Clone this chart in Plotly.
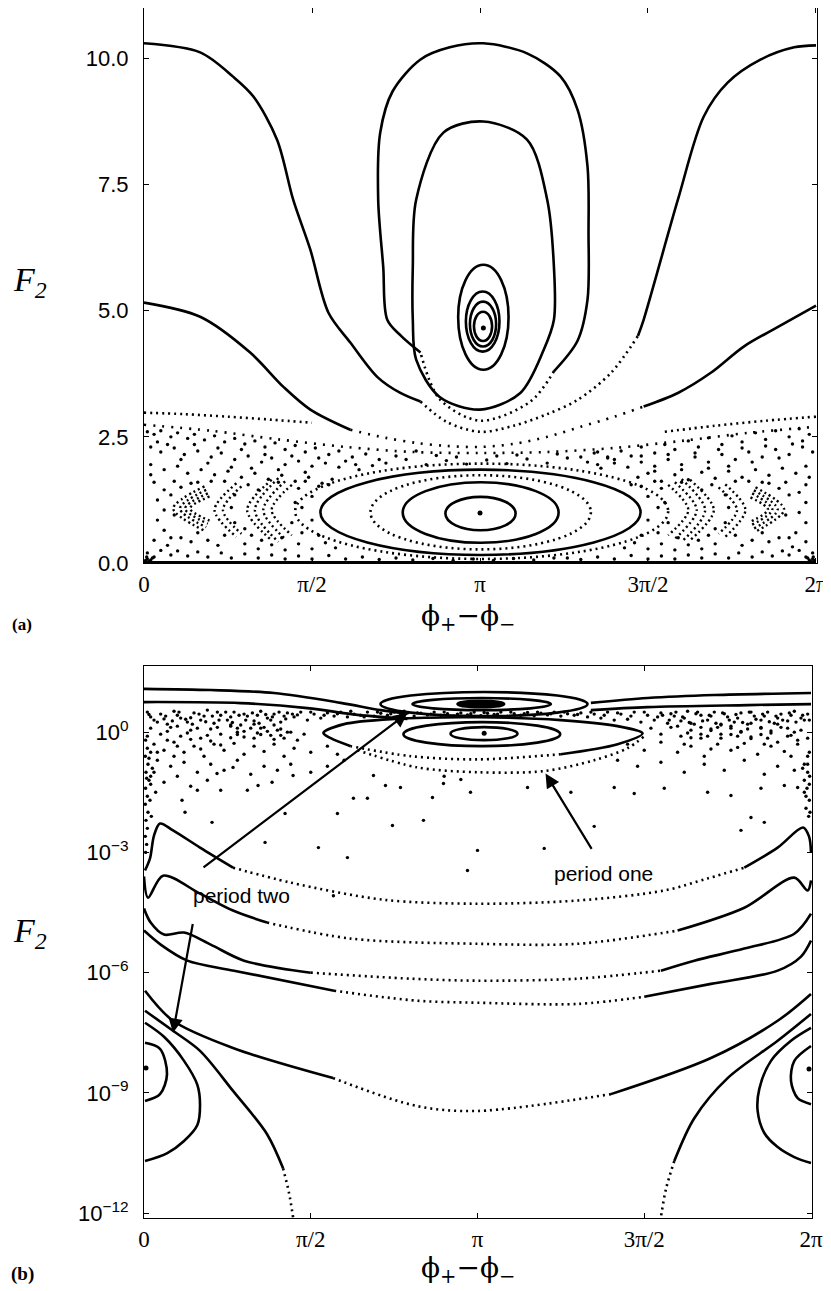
import plotly.graph_objects as go

# ================= shared =================
phase_tickvals = [0, 0.5, 1, 1.5, 2]          # phi+ - phi-, in units of pi
phase_ticktext = ["0", "π/2", "π", "3π/2", "2π"]

# ================= panel (a): linear F2 =================
a_ytickvals = [0, 2.5, 5, 7.5, 10]
a_yticktext = ["0.0", "2.5", "5.0", "7.5", "10.0"]

# outer curve reaching 10.3 at the edges (solid outer parts, dotted bottom)
t1_left_x = [0, 0.167, 0.265, 0.325, 0.396, 0.444, 0.495, 0.549, 0.614, 0.694, 0.763, 0.823]
t1_left_y = [10.3, 10.12, 9.64, 9.25, 8.39, 7.2, 6.21, 4.96, 4.37, 3.69, 3.37, 3.2]
t1_mid_x = [0.823, 0.9, 1.0, 1.1, 1.2, 1.29, 1.39, 1.47]
t1_mid_y = [3.2, 2.8, 2.6, 2.72, 2.95, 3.23, 3.77, 4.5]
t1_right_x = [1.47, 1.487, 1.589, 1.666, 1.737, 1.836, 1.935, 2.0]
t1_right_y = [4.5, 4.82, 7.2, 8.85, 9.52, 9.98, 10.22, 10.26]

# curve reaching 5.1 at the edges
ca_left_x = [0, 0.167, 0.316, 0.415, 0.495, 0.614]
ca_left_y = [5.16, 4.88, 4.17, 3.49, 3.04, 2.64]
ca_mid_x = [0.614, 0.72, 0.81, 0.9, 1.0, 1.1, 1.2, 1.3, 1.4, 1.487]
ca_mid_y = [2.64, 2.48, 2.38, 2.32, 2.3, 2.36, 2.5, 2.7, 2.9, 3.1]
ca_right_x = [1.487, 1.589, 1.687, 1.785, 1.887, 2.0]
ca_right_y = [3.1, 3.37, 3.77, 4.29, 4.68, 5.1]

# large oval around the upper fixed point
o1_solid_x = [0.823, 0.765, 0.724, 0.712, 0.697, 0.703, 0.74, 0.823, 0.91, 1.01, 1.14, 1.24, 1.29, 1.32, 1.323, 1.32, 1.29, 1.22]
o1_solid_y = [4.17, 4.5, 4.82, 5.87, 7.2, 8.53, 9.35, 9.98, 10.22, 10.3, 10.1, 9.64, 8.99, 7.86, 6.55, 5.22, 4.4, 3.8]
o1_dot_x = [1.22, 1.15, 1.0, 0.88, 0.823]
o1_dot_y = [3.8, 3.2, 2.82, 3.25, 4.17]
o2_x = [1.0, 0.88, 0.81, 0.80, 0.80, 0.81, 0.891, 1.01, 1.14, 1.20, 1.22, 1.22, 1.19, 1.12, 1.0]
o2_y = [3.04, 3.29, 4.03, 4.82, 5.87, 7.2, 8.53, 8.75, 8.39, 7.2, 5.87, 4.82, 4.23, 3.37, 3.04]

# small nested ovals (bounding boxes) around the upper fixed point
s_x0 = [0.935, 0.958, 0.97, 0.982]
s_x1 = [1.085, 1.058, 1.048, 1.036]
s_y0 = [3.83, 4.19, 4.29, 4.40]
s_y1 = [5.91, 5.38, 5.18, 4.98]

# ellipses around the lower fixed point
e_x0 = [0.897, 0.77, 0.674, 0.525, 0.45]
e_x1 = [1.106, 1.234, 1.33, 1.478, 1.56]
e_y0 = [0.65, 0.40, 0.27, 0.16, 0.08]
e_y1 = [1.31, 1.60, 1.74, 1.85, 1.97]
e_dotted = [False, False, True, False, True]

a_fixed_x = [1.01, 1.0]
a_fixed_y = [4.66, 0.99]

# dotted invariant curves near the chaotic layer
a2_left_x = [0, 0.12, 0.25, 0.38, 0.5]
a2_left_y = [2.98, 2.95, 2.9, 2.84, 2.78]
a2_right_x = [1.55, 1.7, 1.85, 2.0]
a2_right_y = [2.6, 2.72, 2.82, 2.9]
row_x = [0, 0.2, 0.4, 0.6, 0.8, 1.0, 1.2, 1.4, 1.6, 1.8, 2.0]
row_y = [2.74, 2.62, 2.45, 2.3, 2.2, 2.18, 2.2, 2.28, 2.42, 2.58, 2.7]

# crescent island chains in the chaotic sea
arcs_a = [
    ([0.18, 0.087, 0.18], [1.52, 1.08, 0.64]),
    ([0.185, 0.107, 0.185], [1.45, 1.08, 0.71]),
    ([0.19, 0.122, 0.19], [1.38, 1.08, 0.78]),
    ([0.195, 0.137, 0.195], [1.32, 1.08, 0.84]),
    ([0.275, 0.21, 0.275], [1.58, 1.05, 0.52]),
    ([0.29, 0.235, 0.29], [1.52, 1.05, 0.58]),
    ([0.38, 0.307, 0.38], [1.65, 1.05, 0.45]),
    ([0.40, 0.33, 0.40], [1.68, 1.05, 0.42]),
    ([0.42, 0.355, 0.42], [1.62, 1.05, 0.48]),
    ([0.44, 0.38, 0.44], [1.55, 1.05, 0.55]),
    ([1.82, 1.905, 1.82], [1.5, 1.06, 0.62]),
    ([1.815, 1.886, 1.815], [1.44, 1.06, 0.68]),
    ([1.81, 1.87, 1.81], [1.38, 1.06, 0.76]),
    ([1.805, 1.857, 1.805], [1.3, 1.06, 0.82]),
    ([1.73, 1.79, 1.73], [1.56, 1.05, 0.52]),
    ([1.71, 1.765, 1.71], [1.5, 1.05, 0.58]),
    ([1.625, 1.696, 1.625], [1.65, 1.05, 0.45]),
    ([1.6, 1.67, 1.6], [1.66, 1.05, 0.42]),
    ([1.58, 1.645, 1.58], [1.6, 1.05, 0.48]),
    ([1.56, 1.62, 1.56], [1.55, 1.05, 0.55]),
]

bottom_x = [0, 2]
bottom_y = [0, 0]

chaos_a = [
    (0.01, 2.6), (0.03, 2.55), (0.05, 2.62), (0.08, 2.5), (0.1, 2.58), (0.13, 2.47), (0.15, 2.55), (0.18, 2.44),
    (0.21, 2.52), (0.24, 2.4), (0.27, 2.47), (0.3, 2.36), (0.33, 2.42), (0.36, 2.3), (0.39, 2.38), (0.42, 2.25),
    (0.45, 2.33), (0.48, 2.2), (0.51, 2.28), (0.55, 2.15), (0.58, 2.22), (0.62, 2.1), (0.66, 2.16), (0.7, 2.05),
    (0.02, 2.3), (0.05, 2.2), (0.09, 2.28), (0.12, 2.15), (0.16, 2.22), (0.2, 2.1), (0.23, 2.18), (0.27, 2.05),
    (0.31, 2.12), (0.35, 2.0), (0.38, 2.08), (0.42, 1.95), (0.46, 2.02), (0.5, 1.92), (0.54, 1.98), (0.58, 1.9),
    (0.63, 1.95), (0.68, 1.93), (0.02, 1.95), (0.06, 1.85), (0.1, 1.92), (0.13, 1.78), (0.17, 1.85), (0.21, 1.75),
    (0.25, 1.82), (0.29, 1.7), (0.33, 1.78), (0.37, 1.66), (0.41, 1.74), (0.45, 1.62), (0.49, 1.7), (0.53, 1.58),
    (0.56, 1.66), (0.03, 1.6), (0.06, 1.45), (0.04, 1.25), (0.06, 1.05), (0.04, 0.85), (0.06, 0.65), (0.03, 0.45),
    (0.07, 0.35), (0.02, 1.75), (0.09, 1.62), (0.11, 1.5), (0.14, 1.58), (0.24, 1.62), (0.27, 1.35), (0.26, 1.1),
    (0.27, 0.8), (0.24, 0.55), (0.11, 0.5), (0.14, 0.42), (0.19, 0.45), (0.22, 0.35), (0.3, 0.38), (0.34, 0.28),
    (0.38, 0.36), (0.42, 0.26), (0.46, 0.38), (0.5, 0.28), (0.54, 0.4), (0.57, 0.3), (0.47, 0.6), (0.5, 0.85),
    (0.47, 1.1), (0.5, 1.32), (0.46, 1.48), (0.52, 1.52), (0.44, 0.8), (0.45, 1.2),
    (0.04, 2.4), (0.07, 2.35), (0.11, 2.05), (0.15, 2.35), (0.19, 1.98), (0.22, 2.28), (0.26, 1.9), (0.29, 2.25),
    (0.32, 1.88), (0.36, 2.15), (0.4, 1.85), (0.44, 2.12), (0.48, 1.8), (0.52, 2.08), (0.6, 2.02), (0.64, 1.85),
    (0.08, 1.35), (0.09, 0.95), (0.08, 0.5), (0.16, 0.6), (0.16, 1.6), (0.2, 1.62), (0.31, 1.55), (0.32, 0.55),
    (0.35, 0.45), (0.4, 1.6), (0.41, 0.5), (0.48, 1.62), (0.52, 0.55), (0.55, 1.55), (0.3, 0.68), (0.34, 1.45),
    (0.01, 0.2), (0.03, 0.12), (0.05, 0.25), (0.08, 0.16), (0.1, 0.24), (0.13, 0.14), (0.16, 0.22), (0.19, 0.12),
    (0.23, 0.2), (0.26, 0.1), (0.3, 0.18), (0.34, 0.1), (0.38, 0.16), (0.42, 0.08), (0.46, 0.14), (0.5, 0.08),
    (0.55, 0.15), (0.6, 0.08), (0.65, 0.12), (0.7, 0.07), (0.75, 0.1), (0.8, 0.06), (0.86, 0.09), (0.92, 0.05),
    (0.98, 0.08), (1.04, 0.05), (1.1, 0.09), (1.16, 0.06), (1.22, 0.1),
    (0.005, 0.05), (0.01, 0.08), (0.015, 0.03), (0.02, 0.06), (0.008, 0.12), (0.025, 0.1),
    (0.72, 1.98), (0.78, 2.05), (0.84, 1.95), (0.9, 2.03), (0.96, 1.96), (1.02, 2.04), (1.08, 1.97), (1.14, 2.06),
    (1.2, 1.98), (1.26, 2.08), (1.32, 2.0), (1.38, 2.1), (0.75, 2.12), (0.87, 2.13), (0.93, 2.1), (1.05, 2.12),
    (1.11, 2.14), (1.23, 2.16), (1.35, 2.2), (0.81, 2.22),
    (1.3, 2.1), (1.34, 2.18), (1.38, 2.08), (1.42, 2.22), (1.45, 2.12), (1.48, 2.3), (1.52, 2.18), (1.55, 2.35),
    (1.58, 2.25), (1.62, 2.42), (1.65, 2.3), (1.68, 2.48), (1.72, 2.35), (1.75, 2.52), (1.78, 2.4), (1.82, 2.58),
    (1.85, 2.45), (1.88, 2.62), (1.92, 2.5), (1.95, 2.66), (1.98, 2.55),
    (1.35, 1.95), (1.4, 1.98), (1.44, 1.9), (1.48, 2.0), (1.52, 1.92), (1.56, 2.05), (1.6, 1.95), (1.64, 2.1),
    (1.68, 2.0), (1.72, 2.15), (1.76, 2.05), (1.8, 2.2), (1.84, 2.1), (1.88, 2.25), (1.92, 2.15), (1.96, 2.3),
    (1.99, 2.2), (1.47, 1.7), (1.5, 1.78), (1.54, 1.62), (1.58, 1.75), (1.62, 1.65), (1.66, 1.8), (1.7, 1.68),
    (1.74, 1.82), (1.78, 1.7), (1.82, 1.85), (1.86, 1.74), (1.9, 1.88), (1.94, 1.78), (1.97, 1.92),
    (1.97, 1.55), (1.95, 1.4), (1.97, 1.2), (1.95, 1.0), (1.97, 0.8), (1.94, 0.6), (1.97, 0.42), (1.93, 0.32),
    (1.98, 1.7), (1.91, 1.6), (1.89, 1.48), (1.86, 1.58), (1.76, 1.62), (1.73, 1.35), (1.74, 1.1), (1.73, 0.8),
    (1.76, 0.55), (1.89, 0.5), (1.86, 0.42), (1.81, 0.45), (1.78, 0.35), (1.7, 0.38), (1.66, 0.28), (1.62, 0.36),
    (1.58, 0.26), (1.54, 0.38), (1.5, 0.28), (1.46, 0.4), (1.43, 0.3), (1.53, 0.6), (1.5, 0.85), (1.53, 1.1),
    (1.5, 1.32), (1.54, 1.48), (1.48, 1.52), (1.56, 0.8), (1.55, 1.2),
    (1.96, 2.42), (1.93, 2.36), (1.89, 2.08), (1.85, 2.32), (1.81, 2.0), (1.78, 2.28), (1.74, 1.92), (1.71, 2.25),
    (1.68, 1.88), (1.64, 2.18), (1.6, 1.85), (1.56, 2.15), (1.52, 1.82), (1.48, 2.12), (1.4, 2.05), (1.36, 1.88),
    (1.92, 1.35), (1.91, 0.95), (1.92, 0.5), (1.84, 0.6), (1.84, 1.6), (1.8, 1.62), (1.69, 1.55), (1.68, 0.55),
    (1.65, 0.45), (1.6, 1.6), (1.59, 0.5), (1.52, 1.62), (1.48, 0.55), (1.45, 1.55), (1.7, 0.68), (1.66, 1.45),
    (1.99, 0.2), (1.97, 0.12), (1.95, 0.25), (1.92, 0.16), (1.9, 0.24), (1.87, 0.14), (1.84, 0.22), (1.81, 0.12),
    (1.77, 0.2), (1.74, 0.1), (1.7, 0.18), (1.66, 0.1), (1.62, 0.16), (1.58, 0.08), (1.54, 0.14), (1.5, 0.08),
    (1.45, 0.15), (1.4, 0.08), (1.35, 0.12), (1.3, 0.07), (1.26, 0.1),
    (1.995, 0.05), (1.99, 0.08), (1.985, 0.03), (1.98, 0.06), (1.992, 0.12), (1.975, 0.1),
]

# ================= panel (b): log F2 (values stored as log10 F2) =================
b_ytickvals = [1, 1e-3, 1e-6, 1e-9, 1e-12]
b_yticktext = ["10<sup>0</sup>", "10<sup>−3</sup>", "10<sup>−6</sup>", "10<sup>−9</sup>", "10<sup>−12</sup>"]

b1_left_x = [0.0, 0.2, 0.39, 0.59, 0.71, 0.79]
b1_left_lg = [1.08, 1.05, 0.975, 0.73, 0.55, 0.46]
b2_left_x = [0.0, 0.29, 0.49, 0.64, 0.79]
b2_left_lg = [0.75, 0.725, 0.6, 0.43, 0.33]
b1_right_x = [1.34, 1.51, 1.71, 2.0]
b1_right_lg = [0.73, 0.85, 0.925, 0.975]
b2_right_x = [1.34, 1.51, 1.81, 2.0]
b2_right_lg = [0.55, 0.625, 0.675, 0.7]

# period-two island (upper) bounding boxes
u_x0 = [0.709, 0.805]
u_x1 = [1.33, 1.22]
u_lg0 = [0.4, 0.55]
u_lg1 = [1.0, 0.85]
ucore_x = [0.94, 1.08]
ucore_lg = [0.62, 0.78]

# period-one island (lower)
l_x0 = [0.919, 0.778]
l_x1 = [1.12, 1.248]
l_lg0 = [-0.2, -0.35]
l_lg1 = [0.125, 0.25]
l3_solid_x = [0.62, 0.56, 0.538, 0.6, 0.75, 1.0, 1.25, 1.42, 1.495, 1.42, 1.25]
l3_solid_lg = [-0.35, -0.15, -0.02, 0.2, 0.33, 0.37, 0.3, 0.15, -0.03, -0.3, -0.55]
l3_dot_x = [1.25, 1.0, 0.8, 0.62]
l3_dot_lg = [-0.55, -0.68, -0.6, -0.35]
db_x = [0.64, 0.82, 1.0, 1.2, 1.35, 1.45, 1.5]
db_lg = [-0.45, -0.88, -1.0, -0.97, -0.7, -0.4, -0.1]
b_fixed_x = [1.02]
b_fixed_lg = [-0.03]

# wavy invariant curves (solid left / dotted middle / solid right)
p2a_l_x = [0.003, 0.018, 0.03, 0.048, 0.087, 0.168, 0.267]
p2a_l_lg = [-3.45, -3.15, -2.58, -2.28, -2.45, -2.88, -3.38]
p2a_m_x = [0.267, 0.438, 0.718, 1.0, 1.30, 1.56, 1.69, 1.80]
p2a_m_lg = [-3.38, -3.75, -4.18, -4.28, -4.2, -3.95, -3.65, -3.38]
p2a_r_x = [1.80, 1.90, 1.976, 1.994, 2.0]
p2a_r_lg = [-3.38, -2.88, -2.38, -2.6, -3.0]

p2b_l_x = [0.0, 0.012, 0.057, 0.168, 0.267, 0.369]
p2b_l_lg = [-3.6, -4.13, -3.58, -4.03, -4.45, -4.75]
p2b_m_x = [0.369, 0.62, 1.0, 1.3, 1.6]
p2b_m_lg = [-4.75, -5.15, -5.28, -5.28, -4.95]
p2b_r_x = [1.6, 1.8, 1.95, 1.99, 2.0]
p2b_r_lg = [-4.95, -4.38, -3.63, -3.95, -3.7]

p3_l_x = [0.0, 0.02, 0.06, 0.12, 0.2, 0.3, 0.5]
p3_l_lg = [-4.4, -4.75, -5.05, -5.0, -5.3, -5.7, -6.0]
p3_m_x = [0.5, 0.8, 1.0, 1.3, 1.55]
p3_m_lg = [-6.0, -6.15, -6.2, -6.15, -5.95]
p3_r_x = [1.55, 1.65, 1.8, 1.95, 2.0]
p3_r_lg = [-5.95, -5.7, -5.4, -5.03, -4.53]

p4_l_x = [0.0, 0.05, 0.13, 0.27, 0.57]
p4_l_lg = [-4.95, -5.3, -5.7, -5.95, -6.45]
p4_m_x = [0.57, 0.82, 1.0, 1.3, 1.5]
p4_m_lg = [-6.45, -6.7, -6.75, -6.78, -6.6]
p4_r_x = [1.5, 1.7, 1.9, 1.97, 2.0]
p4_r_lg = [-6.6, -6.28, -5.95, -5.6, -5.2]

p5_l_x = [0.003, 0.087, 0.267, 0.567]
p5_l_lg = [-6.45, -7.2, -7.88, -8.63]
p5_m_x = [0.567, 0.82, 1.0, 1.4]
p5_m_lg = [-8.63, -9.33, -9.45, -9.03]
p5_r_x = [1.4, 1.7, 1.9, 2.0]
p5_r_lg = [-9.03, -8.13, -7.2, -6.53]

p6_l_x = [0.003, 0.087, 0.168, 0.267, 0.369, 0.417]
p6_l_lg = [-6.95, -7.45, -7.95, -8.95, -10.03, -10.88]
p6_ldot_x = [0.417, 0.435, 0.447]
p6_ldot_lg = [-10.88, -11.5, -12.1]
p6_r_x = [2.0, 1.9, 1.75, 1.65, 1.59]
p6_r_lg = [-7.03, -7.7, -8.63, -9.63, -10.7]
p6_rdot_x = [1.59, 1.565, 1.55]
p6_rdot_lg = [-10.7, -11.4, -12.1]

p7_l_x = [0.003, 0.06, 0.12, 0.16, 0.168, 0.16, 0.12, 0.07, 0.003]
p7_l_lg = [-7.25, -7.6, -8.2, -8.8, -9.3, -9.8, -10.2, -10.5, -10.7]
p7_r_x = [2.0, 1.94, 1.88, 1.845, 1.84, 1.86, 1.9, 1.95, 2.0]
p7_r_lg = [-7.38, -7.7, -8.2, -8.9, -9.45, -10.0, -10.35, -10.6, -10.75]
p8_l_x = [0.003, 0.048, 0.069, 0.048, 0.003]
p8_l_lg = [-7.75, -7.9, -8.53, -9.03, -9.2]
p8_r_x = [2.0, 1.95, 1.94, 1.96, 2.0]
p8_r_lg = [-7.83, -8.2, -8.7, -9.13, -9.28]
p_center_x = [0.006, 1.994]
p_center_lg = [-8.38, -8.4]

chaos_b = [
    (0.01, 0.5), (0.03, 0.3), (0.05, 0.45), (0.07, 0.2), (0.09, 0.52), (0.11, 0.35), (0.13, 0.25), (0.15, 0.48),
    (0.17, 0.3), (0.19, 0.55), (0.21, 0.22), (0.23, 0.42), (0.25, 0.3), (0.27, 0.5), (0.29, 0.18), (0.31, 0.4),
    (0.33, 0.28), (0.35, 0.52), (0.37, 0.35), (0.39, 0.45), (0.41, 0.25), (0.43, 0.48), (0.45, 0.38), (0.47, 0.5),
    (0.49, 0.3), (0.51, 0.45), (0.53, 0.35), (0.55, 0.48), (0.57, 0.4), (0.59, 0.5), (0.61, 0.38), (0.63, 0.45),
    (0.65, 0.42), (0.67, 0.5), (0.69, 0.4), (0.71, 0.47), (0.73, 0.42), (0.75, 0.5), (0.77, 0.44), (0.79, 0.48),
    (0.81, 0.4), (0.83, 0.47), (0.85, 0.43), (0.87, 0.5), (0.89, 0.42), (0.91, 0.46), (0.93, 0.4), (0.95, 0.48),
    (0.97, 0.43), (0.99, 0.5), (1.01, 0.41), (1.03, 0.47), (1.05, 0.44), (1.07, 0.5), (1.09, 0.4), (1.11, 0.46),
    (1.13, 0.42), (1.15, 0.49), (1.17, 0.41), (1.19, 0.47), (1.21, 0.43), (1.23, 0.5), (1.25, 0.4), (1.27, 0.46),
    (1.29, 0.42), (1.31, 0.48), (1.33, 0.38), (1.35, 0.45), (1.37, 0.35), (1.39, 0.5), (1.41, 0.3), (1.43, 0.45),
    (1.45, 0.32), (1.47, 0.5), (1.49, 0.25), (1.51, 0.42), (1.53, 0.3), (1.55, 0.48), (1.57, 0.22), (1.59, 0.4),
    (1.61, 0.28), (1.63, 0.52), (1.65, 0.2), (1.67, 0.42), (1.69, 0.3), (1.71, 0.5), (1.73, 0.18), (1.75, 0.38),
    (1.77, 0.25), (1.79, 0.48), (1.81, 0.2), (1.83, 0.4), (1.85, 0.3), (1.87, 0.5), (1.89, 0.22), (1.91, 0.45),
    (1.93, 0.28), (1.95, 0.52), (1.97, 0.35), (1.99, 0.45),
    (0.02, 0.38), (0.06, 0.33), (0.1, 0.42), (0.14, 0.36), (0.18, 0.4), (0.22, 0.5), (0.26, 0.38), (0.3, 0.45),
    (0.34, 0.42), (0.38, 0.3), (0.42, 0.4), (0.46, 0.43), (0.5, 0.5), (0.54, 0.42), (0.58, 0.46), (0.62, 0.52),
    (0.66, 0.38), (0.7, 0.5), (0.74, 0.46), (0.78, 0.52), (0.82, 0.48), (0.86, 0.45), (0.9, 0.5), (0.94, 0.45),
    (0.98, 0.46), (1.02, 0.49), (1.06, 0.45), (1.1, 0.5), (1.14, 0.46), (1.18, 0.5), (1.22, 0.46), (1.26, 0.5),
    (1.3, 0.44), (1.34, 0.5), (1.38, 0.42), (1.42, 0.48), (1.46, 0.4), (1.5, 0.5), (1.54, 0.38), (1.58, 0.46),
    (1.62, 0.35), (1.66, 0.5), (1.7, 0.4), (1.74, 0.46), (1.78, 0.35), (1.82, 0.5), (1.86, 0.4), (1.9, 0.35),
    (1.94, 0.42), (1.98, 0.3),
    (0.015, 0.44), (0.04, 0.25), (0.065, 0.4), (0.085, 0.28), (0.105, 0.5), (0.125, 0.32), (0.145, 0.2),
    (0.165, 0.45), (0.185, 0.26), (0.205, 0.4), (0.225, 0.3), (0.245, 0.5), (0.265, 0.24), (0.285, 0.42),
    (0.305, 0.3), (0.325, 0.48), (0.345, 0.22), (0.365, 0.44), (0.385, 0.38), (0.405, 0.5), (0.425, 0.33),
    (0.445, 0.45), (1.555, 0.42), (1.575, 0.3), (1.595, 0.5), (1.615, 0.38), (1.635, 0.24), (1.655, 0.46),
    (1.675, 0.28), (1.695, 0.42), (1.715, 0.22), (1.735, 0.48), (1.755, 0.3), (1.775, 0.44), (1.795, 0.24),
    (1.815, 0.5), (1.835, 0.32), (1.855, 0.45), (1.875, 0.26), (1.895, 0.4), (1.915, 0.3), (1.935, 0.48),
    (1.955, 0.25), (1.975, 0.42), (1.995, 0.3),
    (0.02, 0.1), (0.05, -0.05), (0.08, 0.12), (0.11, -0.1), (0.14, 0.05), (0.17, -0.15), (0.2, 0.08), (0.23, -0.05),
    (0.26, 0.15), (0.28, 0.0), (0.3, -0.12), (0.32, 0.1), (0.34, -0.02), (0.36, 0.12), (0.38, -0.08), (0.4, 0.05),
    (0.42, -0.15), (0.44, 0.0), (0.46, -0.2), (0.48, -0.05),
    (0.03, -0.3), (0.06, -0.45), (0.09, -0.25), (0.12, -0.5), (0.15, -0.35), (0.18, -0.6), (0.21, -0.3), (0.24, -0.45),
    (0.27, -0.28), (0.3, -0.55), (0.33, -0.35), (0.36, -0.48), (0.39, -0.3), (0.42, -0.6), (0.45, -0.4), (0.5, -0.5),
    (0.55, -0.35), (0.58, -0.55),
    (0.04, -0.7), (0.08, -0.85), (0.12, -0.75), (0.16, -1.0), (0.2, -0.8), (0.24, -0.95), (0.28, -0.7), (0.32, -1.05),
    (0.36, -0.85), (0.4, -0.95), (0.44, -0.8), (0.5, -1.0), (0.55, -0.85), (0.6, -0.7),
    (0.02, -1.1), (0.06, -1.25), (0.1, -1.1), (0.14, -1.35), (0.19, -1.2), (0.23, -1.45),
    (0.26, 0.18), (0.28, 0.1), (0.3, 0.02), (0.28, -0.06), (0.26, -0.14), (0.33, 0.2), (0.35, 0.1), (0.37, 0.02),
    (0.35, -0.06), (0.33, -0.15), (0.39, 0.18), (0.41, 0.08), (0.43, 0.0), (0.41, -0.08), (0.39, -0.18),
    (0.07, 0.02), (0.1, 0.15), (0.13, -0.02), (0.16, 0.1), (0.19, -0.08), (0.22, 0.12), (0.07, -0.2),
    (0.1, -0.35), (0.14, -0.18), (0.17, -0.42), (0.2, -0.22), (0.23, -0.32), (0.04, -0.5), (0.09, -0.6),
    (0.005, -0.2), (0.01, -0.4), (0.004, -0.6), (0.012, -0.8), (0.006, -1.0), (0.015, -1.2), (0.005, -1.4),
    (0.01, -1.6), (0.004, -1.8), (0.012, -2.0), (0.006, -2.2), (0.01, -2.4), (0.004, -2.6), (0.008, -2.8),
    (0.005, -3.0), (0.02, -0.5), (0.025, -0.9), (0.02, -1.3), (0.018, -1.7), (0.022, -2.1), (0.03, -1.0),
    (0.035, -1.5), (0.01, -0.1), (0.015, -0.65), (0.008, -1.15),
    (1.52, 0.1), (1.55, -0.05), (1.58, 0.12), (1.61, -0.1), (1.64, 0.05), (1.67, -0.15), (1.7, 0.08), (1.73, -0.05),
    (1.76, 0.15), (1.79, 0.0), (1.82, -0.12), (1.85, 0.1), (1.88, -0.02), (1.91, 0.12), (1.94, -0.08), (1.97, 0.05),
    (1.99, -0.15),
    (1.45, -0.3), (1.5, -0.45), (1.55, -0.25), (1.6, -0.5), (1.64, -0.35), (1.68, -0.6), (1.72, -0.3), (1.76, -0.45),
    (1.8, -0.28), (1.84, -0.55), (1.88, -0.35), (1.92, -0.48), (1.96, -0.3), (1.99, -0.6),
    (1.42, -0.7), (1.48, -0.85), (1.55, -0.75), (1.62, -1.0), (1.68, -0.8), (1.74, -0.95), (1.8, -0.7), (1.86, -1.05),
    (1.9, -0.85), (1.95, -0.95), (1.98, -0.8),
    (1.64, 0.22), (1.67, 0.12), (1.7, 0.04), (1.67, -0.05), (1.64, -0.14), (1.73, 0.2), (1.76, 0.1), (1.79, 0.02),
    (1.76, -0.06), (1.73, -0.15), (1.82, 0.22), (1.85, 0.12), (1.88, 0.03), (1.85, -0.06), (1.82, -0.16),
    (1.9, 0.2), (1.93, 0.1), (1.95, 0.0), (1.93, -0.1),
    (1.6, 0.15), (1.63, -0.02), (1.69, -0.1), (1.72, 0.12), (1.78, -0.1), (1.81, 0.08), (1.87, -0.15),
    (1.9, -0.25), (1.86, -0.3), (1.78, -0.38), (1.7, -0.42), (1.62, -0.3), (1.94, -0.6), (1.96, -0.2),
    (1.995, -0.5), (1.99, -0.8), (1.996, -1.1), (1.988, -1.4), (1.995, -1.7), (1.985, -1.9), (1.993, -2.1),
    (1.98, -1.2), (1.975, -0.9), (1.985, -1.6), (1.997, -2.0), (1.99, -1.0), (1.98, -1.5), (1.995, -1.3),
    (0.123, -2.0), (0.204, -2.25), (0.363, -2.75), (0.423, -2.03), (0.523, -2.88), (0.61, -3.13), (0.58, -2.03),
    (0.67, -1.65), (0.724, -1.33), (0.745, -2.33), (0.568, -4.08), (0.31, -1.45), (0.342, -1.33), (0.384, -1.25),
    (0.16, -1.45), (0.114, -1.7), (0.219, -1.03), (0.267, -0.88), (0.447, -1.08), (0.628, -1.65), (0.688, -1.08),
    (0.769, -1.38), (0.838, -2.2), (1.0, -2.95), (0.97, -3.45), (1.79, -2.45), (1.86, -2.25), (1.82, -2.13),
    (0.898, -1.28), (0.979, -1.5), (0.865, -1.63), (1.15, -1.38), (1.28, -1.5), (1.41, -1.38), (1.47, -1.53),
    (1.56, -1.4), (1.69, -1.5), (1.76, -1.58), (1.85, -1.4), (1.92, -1.33), (1.96, -1.38), (1.2, -2.9),
    (1.35, -2.35), (0.9, -1.1), (0.95, -1.18),
]

# ================= figure =================
fig = go.Figure()
LW = 2.6
DOT = "2px,4px"
SPARSE = "2px,7px"


def curve(x, y, xa, ya, dash=None, width=LW):
    fig.add_trace(go.Scatter(
        x=x, y=y, mode="lines", xaxis=xa, yaxis=ya, showlegend=False, hoverinfo="skip",
        line=dict(color="black", width=width, dash=dash, shape="spline", smoothing=0.9)))


def dots(x, y, xa, ya, size=3.4):
    fig.add_trace(go.Scatter(
        x=x, y=y, mode="markers", xaxis=xa, yaxis=ya, showlegend=False, hoverinfo="skip",
        marker=dict(color="black", size=size, line=dict(width=0))))


def ten(v):
    return [10 ** t for t in v]


# ---- panel (a)
curve(t1_left_x, t1_left_y, "x", "y")
curve(t1_mid_x, t1_mid_y, "x", "y", DOT)
curve(t1_right_x, t1_right_y, "x", "y")
curve(ca_left_x, ca_left_y, "x", "y")
curve(ca_mid_x, ca_mid_y, "x", "y", SPARSE)
curve(ca_right_x, ca_right_y, "x", "y")
curve(o1_solid_x, o1_solid_y, "x", "y")
curve(o1_dot_x, o1_dot_y, "x", "y", DOT)
curve(o2_x, o2_y, "x", "y")
curve(a2_left_x, a2_left_y, "x", "y", DOT)
curve(a2_right_x, a2_right_y, "x", "y", DOT)
curve(row_x, row_y, "x", "y", SPARSE)
for ax_, ay_ in arcs_a:
    curve(ax_, ay_, "x", "y", "2px,3px", 2.4)
curve(bottom_x, bottom_y, "x", "y", None, 4)
cx, cy = zip(*chaos_a)
dots(list(cx), list(cy), "x", "y")
dots(a_fixed_x, a_fixed_y, "x", "y", 5)

shapes = []
for x0, x1, y0, y1 in zip(s_x0, s_x1, s_y0, s_y1):
    shapes.append(dict(type="circle", xref="x", yref="y", x0=x0, x1=x1, y0=y0, y1=y1,
                       line=dict(color="black", width=LW)))
for x0, x1, y0, y1, dd in zip(e_x0, e_x1, e_y0, e_y1, e_dotted):
    shapes.append(dict(type="circle", xref="x", yref="y", x0=x0, x1=x1, y0=y0, y1=y1,
                       line=dict(color="black", width=LW, dash=DOT if dd else "solid")))

# ---- panel (b)
curve(b1_left_x, ten(b1_left_lg), "x2", "y2")
curve(b2_left_x, ten(b2_left_lg), "x2", "y2")
curve(b1_right_x, ten(b1_right_lg), "x2", "y2")
curve(b2_right_x, ten(b2_right_lg), "x2", "y2")
curve(l3_solid_x, ten(l3_solid_lg), "x2", "y2")
curve(l3_dot_x, ten(l3_dot_lg), "x2", "y2", DOT)
curve(db_x, ten(db_lg), "x2", "y2", DOT)
for (lx, ll, mx, ml, rx, rl) in [
    (p2a_l_x, p2a_l_lg, p2a_m_x, p2a_m_lg, p2a_r_x, p2a_r_lg),
    (p2b_l_x, p2b_l_lg, p2b_m_x, p2b_m_lg, p2b_r_x, p2b_r_lg),
    (p3_l_x, p3_l_lg, p3_m_x, p3_m_lg, p3_r_x, p3_r_lg),
    (p4_l_x, p4_l_lg, p4_m_x, p4_m_lg, p4_r_x, p4_r_lg),
    (p5_l_x, p5_l_lg, p5_m_x, p5_m_lg, p5_r_x, p5_r_lg),
]:
    curve(lx, ten(ll), "x2", "y2")
    curve(mx, ten(ml), "x2", "y2", DOT)
    curve(rx, ten(rl), "x2", "y2")
curve(p6_l_x, ten(p6_l_lg), "x2", "y2")
curve(p6_ldot_x, ten(p6_ldot_lg), "x2", "y2", DOT)
curve(p6_r_x, ten(p6_r_lg), "x2", "y2")
curve(p6_rdot_x, ten(p6_rdot_lg), "x2", "y2", DOT)
curve(p7_l_x, ten(p7_l_lg), "x2", "y2")
curve(p7_r_x, ten(p7_r_lg), "x2", "y2")
curve(p8_l_x, ten(p8_l_lg), "x2", "y2")
curve(p8_r_x, ten(p8_r_lg), "x2", "y2")
dots(p_center_x, ten(p_center_lg), "x2", "y2", 5)
dots(b_fixed_x, ten(b_fixed_lg), "x2", "y2", 5)
bx, bl = zip(*chaos_b)
dots(list(bx), ten(bl), "x2", "y2", 3.4)

for x0, x1, g0, g1 in zip(u_x0, u_x1, u_lg0, u_lg1):
    shapes.append(dict(type="circle", xref="x2", yref="y2", x0=x0, x1=x1, y0=10 ** g0, y1=10 ** g1,
                       line=dict(color="black", width=LW)))
shapes.append(dict(type="circle", xref="x2", yref="y2", x0=ucore_x[0], x1=ucore_x[1],
                   y0=10 ** ucore_lg[0], y1=10 ** ucore_lg[1], fillcolor="black",
                   line=dict(color="black", width=LW)))
for x0, x1, g0, g1 in zip(l_x0, l_x1, l_lg0, l_lg1):
    shapes.append(dict(type="circle", xref="x2", yref="y2", x0=x0, x1=x1, y0=10 ** g0, y1=10 ** g1,
                       line=dict(color="black", width=LW)))

# ---- axes
common = dict(showline=True, linecolor="black", linewidth=1.2, mirror="ticks", ticks="inside",
              ticklen=5, tickwidth=1, tickcolor="black", showgrid=False, zeroline=False,
              automargin=False)
xfont = dict(family="Liberation Serif, Times New Roman, serif", size=23, color="black")
yfont = dict(family="Liberation Sans, Arial, sans-serif", size=22, color="black")

# the page body adds an 8px margin; figure pixel = page pixel - OFF
OFF = 8
W, H = 831 - OFF, 1291 - OFF


def fx(p):
    return (p - OFF) / W


def fy(p):
    return 1 - (p - OFF) / H


fig.update_layout(
    template="none",
    width=W, height=H, margin=dict(l=0, r=0, t=0, b=0, pad=0), autosize=False,
    paper_bgcolor="white", plot_bgcolor="white", showlegend=False,
    xaxis=dict(domain=[fx(144), fx(817)], anchor="y", range=[0, 2.003], tickvals=phase_tickvals,
               ticktext=phase_ticktext, tickfont=xfont, ticklabelstandoff=0, **common),
    yaxis=dict(domain=[fy(563), fy(8)], anchor="x", range=[0, 11.0], tickvals=a_ytickvals,
               ticktext=a_yticktext, tickfont=yfont, ticklabelstandoff=10, **common),
    xaxis2=dict(domain=[fx(144), fx(812)], anchor="y2", range=[0, 2.003], tickvals=phase_tickvals,
                ticktext=phase_ticktext, tickfont=xfont, ticklabelstandoff=0, **common),
    yaxis2=dict(domain=[fy(1218), fy(666)], anchor="x2", type="log", range=[-12.12, 1.65],
                tickvals=b_ytickvals, ticktext=b_yticktext, tickfont=yfont, ticklabelstandoff=10, **common),
    shapes=shapes,
)

# ---- text
serif = "Liberation Serif, Times New Roman, serif"
anns = [
    dict(x=fx(30), y=fy(282), text="<i>F<sub>2</sub></i>", font=dict(family=serif, size=34)),
    dict(x=fx(30), y=fy(933), text="<i>F<sub>2</sub></i>", font=dict(family=serif, size=34)),
    dict(x=fx(468), y=fy(617), text="ϕ<sub>+</sub>−ϕ<sub>−</sub>",
         font=dict(family="DejaVu Serif, serif", size=28)),
    dict(x=fx(468), y=fy(1269), text="ϕ<sub>+</sub>−ϕ<sub>−</sub>",
         font=dict(family="DejaVu Serif, serif", size=28)),
    dict(x=fx(22), y=fy(624), text="<b>(a)</b>", font=dict(family=serif, size=17)),
    dict(x=fx(22), y=fy(1274), text="<b>(b)</b>", font=dict(family=serif, size=19)),
    dict(x=fx(241), y=fy(895), text="period two", font=dict(family="Liberation Sans, Arial", size=21)),
    dict(x=fx(603), y=fy(873), text="period one", font=dict(family="Liberation Sans, Arial", size=21)),
]
for a in anns:
    a.update(xref="paper", yref="paper", showarrow=False, xanchor="center", yanchor="middle")
    a["font"]["color"] = "black"
    fig.add_annotation(**a)

# arrows (log axis: positions in log10 units)
arrow_tip_x = [0.79, 0.087, 1.204]
arrow_tip_lg = [0.475, -7.5, -1.03]
arrow_tail_x = [0.174, 0.147, 1.345]
arrow_tail_lg = [-3.4, -4.75, -2.95]
for tx, tl, sx, sl in zip(arrow_tip_x, arrow_tip_lg, arrow_tail_x, arrow_tail_lg):
    fig.add_annotation(x=tx, y=tl, ax=sx, ay=sl, xref="x2", yref="y2", axref="x2", ayref="y2",
                       text="", showarrow=True, arrowhead=2, arrowsize=1.3, arrowwidth=2.2,
                       arrowcolor="black", standoff=0, startstandoff=0)

fig.write_html("out.html")
